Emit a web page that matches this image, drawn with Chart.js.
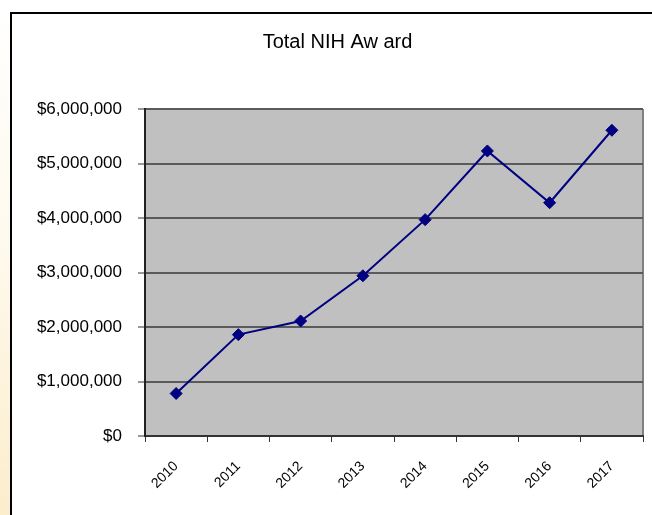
<!DOCTYPE html>
<html>
<head>
<meta charset="utf-8">
<title>Total NIH Award</title>
<script src="https://cdn.jsdelivr.net/npm/chart.js@4.4.0/dist/chart.umd.min.js"></script>
<style>
    html, body { margin: 0; padding: 0; width: 652px; height: 515px; overflow: hidden; }
    body { position: relative; background: linear-gradient(to bottom, #ffffff 0%, #fef9ec 50%, #fcedcc 100%); }
    #frame { position: absolute; left: 10px; top: 12px; width: 680px; height: 540px; background: #fff;
             border-left: 2px solid #000; border-top: 2px solid #000; }
    #awardChart { position: absolute; left: 0; top: 0; }
</style>
</head>
<body>
<div id="frame"></div>
<canvas id="awardChart" width="652" height="515"></canvas>
<script>
// values
const years = ['2010', '2011', '2012', '2013', '2014', '2015', '2016', '2017'];
const awards = [780000, 1860000, 2110000, 2940000, 3970000, 5230000, 4280000, 5610000];
const yMin = 0;
const yMax = 6000000;
const yStep = 1000000;

const font = "'Liberation Sans', Arial, sans-serif";

// grey plot area + right border, like the old excel chart
const plotArea = {
    id: 'plotArea',
    beforeDraw(chart) {
        const { ctx, chartArea: a } = chart;
        ctx.save();
        ctx.fillStyle = '#c0c0c0';
        ctx.fillRect(a.left, a.top, a.right - a.left, a.bottom - a.top);
        ctx.strokeStyle = '#808080';
        ctx.lineWidth = 2;
        ctx.beginPath();
        ctx.moveTo(a.right, a.top);
        ctx.lineTo(a.right, a.bottom);
        ctx.stroke();
        ctx.restore();
    }
};

const ctx = document.getElementById('awardChart').getContext('2d');
const awardChart = new Chart(ctx, {
    type: 'line',
    data: {
        labels: years,
        datasets: [{
            label: 'Total NIH Award',
            data: awards,
            borderColor: '#000080',
            backgroundColor: '#000080',
            borderWidth: 2,
            pointStyle: 'rectRot',
            pointRadius: 6,
            pointBorderWidth: 1,
            tension: 0
        }]
    },
    options: {
        responsive: false,
        animation: false,
        layout: { padding: { left: 32, right: 9, top: 0, bottom: 0 } },
        plugins: {
            legend: { display: false },
            tooltip: { enabled: false },
            title: {
                display: true,
                text: 'Total NIH Aw ard',
                color: '#000',
                font: { family: font, size: 20, weight: 'normal' },
                padding: { top: 30, bottom: 55 }
            }
        },
        scales: {
            x: {
                offset: true,
                grid: { offset: true, drawOnChartArea: false, drawTicks: true, tickLength: 6, tickColor: '#333', tickWidth: 1 },
                border: { color: '#333', width: 2 },
                ticks: {
                    color: '#000',
                    font: { family: font, size: 14 },
                    minRotation: 45,
                    maxRotation: 45,
                    padding: 16
                },
                afterFit(scale) { scale.height = 79; }
            },
            y: {
                min: yMin,
                max: yMax,
                grid: { color: '#5a5a5a', lineWidth: 2, tickLength: 7, tickColor: '#333', tickWidth: 1 },
                border: { color: '#222', width: 2 },
                ticks: {
                    stepSize: yStep,
                    color: '#000',
                    padding: 16,
                    font: { family: font, size: 17 },
                    callback: v => '$' + v.toLocaleString('en-US')
                },
                afterFit(scale) { scale.width = 113; }
            }
        }
    },
    plugins: [plotArea]
});
</script>
</body>
</html>
